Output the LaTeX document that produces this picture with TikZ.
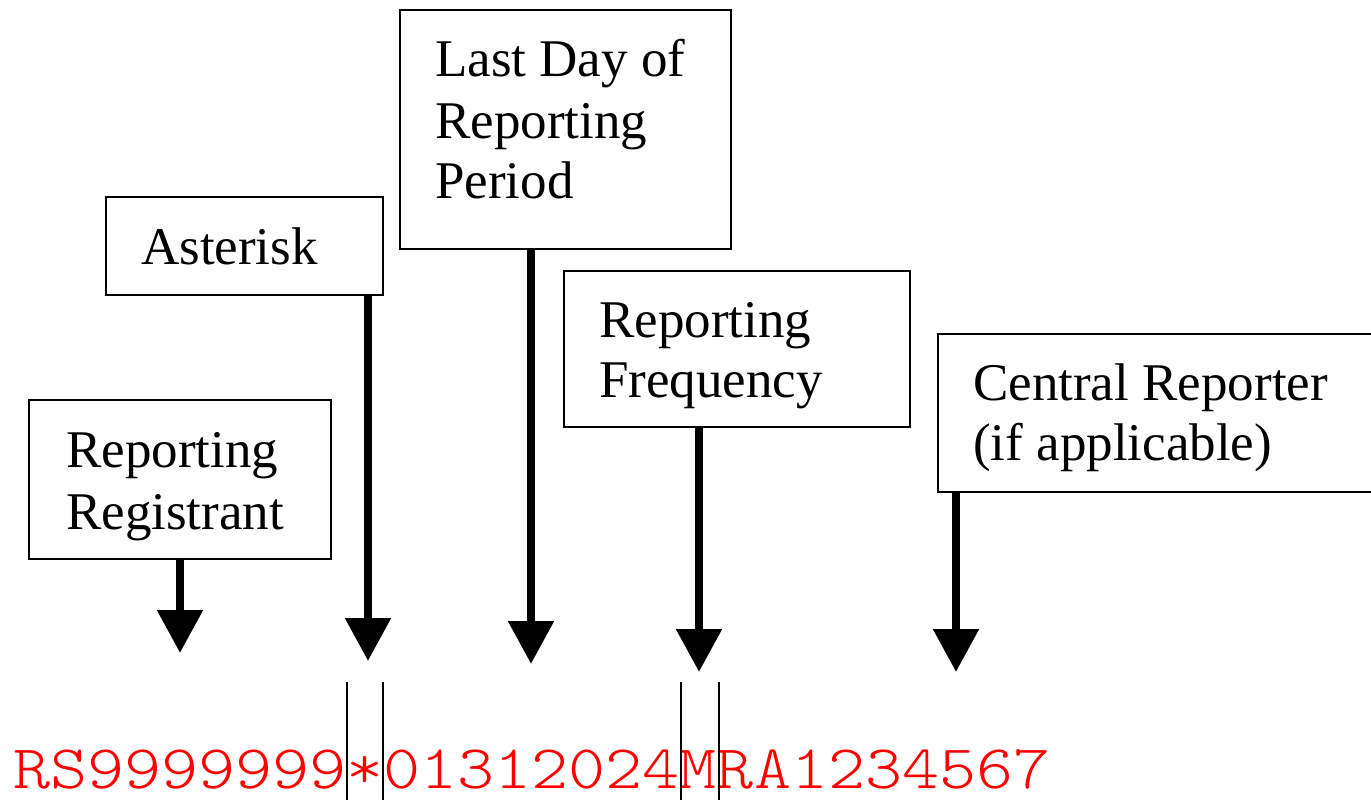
\documentclass[tikz,border=0pt]{standalone}
\usepackage{fontspec}
\setmainfont{Liberation Serif}
\newfontfamily\codefont{Latin Modern Mono Light}
\usetikzlibrary{arrows.meta}
\begin{document}
\begin{tikzpicture}[x=1pt,y=-1pt,
  box/.style={draw, line width=2.5pt, rectangle, anchor=north west, inner sep=0pt, outer sep=0pt},
  lbl/.style={anchor=base west, inner sep=0pt, font=\fontsize{53}{60}\selectfont},
  arr/.style={line width=8.5pt, -{Triangle[width=44pt,length=43pt]}},
  sep/.style={line width=2pt},
  code/.style={anchor=base west, inner sep=0pt, text=red, font=\codefont\fontsize{62}{62}\selectfont}]
\useasboundingbox (0,0) rectangle (1371,800);
\fill[white] (0,0) rectangle (1371,800);
% boxes
\node[box, minimum width=302pt, minimum height=159pt] (reg) at (29,400) {};
\node[box, minimum width=277pt, minimum height=98pt] (ast) at (106,197) {};
\node[box, minimum width=331pt, minimum height=239pt] (last) at (400,10) {};
\node[box, minimum width=346pt, minimum height=156pt] (freq) at (564,271) {};
\node[box, minimum width=450pt, minimum height=158pt] (cent) at (938,334) {};
% labels
\node[lbl] (reg1) at (66,467) {Reporting};
\node[lbl] (reg2) at (66,529) {Registrant};
\node[lbl] (ast1) at (141,264) {Asterisk};
\node[lbl] (last1) at (435,77) {Last Day of};
\node[lbl] (last2) at (435,138) {Reporting};
\node[lbl] (last3) at (435,198) {Period};
\node[lbl] (freq1) at (599,337) {Reporting};
\node[lbl] (freq2) at (599,397) {Frequency};
\node[lbl] (cent1) at (973,400) {Central Reporter};
\node[lbl] (cent2) at (973,460) {(if applicable)};
% arrow tips
\coordinate (t1) at (180,653);
\coordinate (t2) at (368,661);
\coordinate (t3) at (531,664);
\coordinate (t4) at (699,672);
\coordinate (t5) at (956,672);
\draw[arr] (reg.south -| t1) -- (t1);
\draw[arr] (ast.south -| t2) -- (t2);
\draw[arr] (last.south -| t3) -- (t3);
\draw[arr] (freq.south -| t4) -- (t4);
\draw[arr] (cent.south -| t5) -- (t5);
% code string
\node[code] (codestr) at (13,788) {\scalebox{1.138}[1]{RS9999999*01312024MRA1234567}};
% separators
\coordinate (s1) at (347,682);
\coordinate (s2) at (383,682);
\coordinate (s3) at (681,682);
\coordinate (s4) at (719,682);
\draw[sep] (s1) -- ++(0,125);
\draw[sep] (s2) -- ++(0,125);
\draw[sep] (s3) -- ++(0,125);
\draw[sep] (s4) -- ++(0,125);
\end{tikzpicture}
\end{document}
